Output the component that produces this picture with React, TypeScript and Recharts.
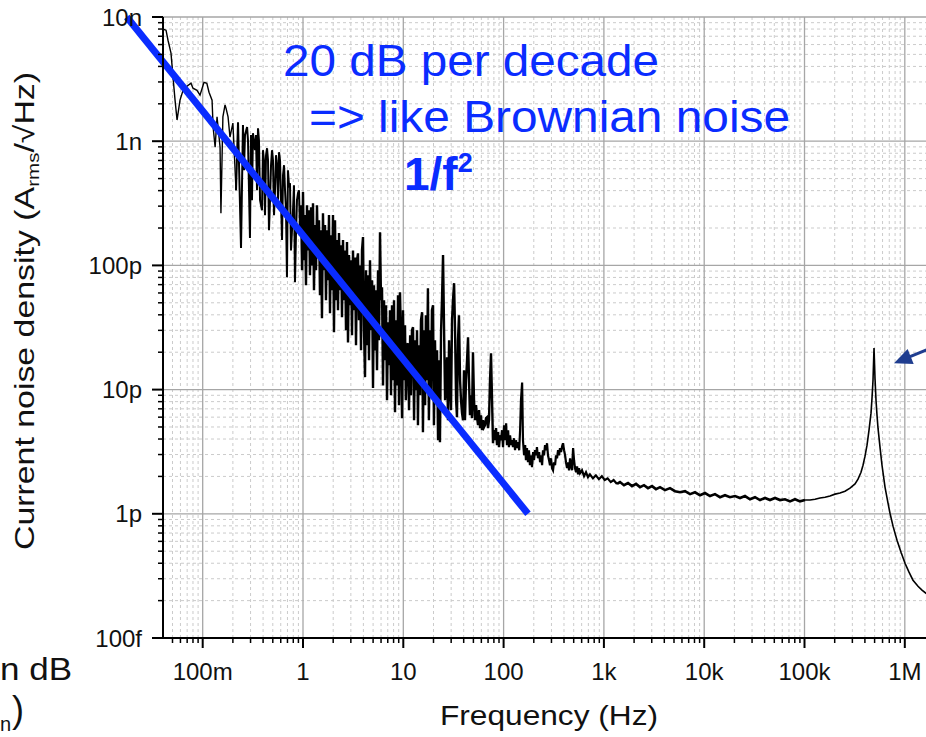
import React from 'react';
import { LineChart, Line, XAxis, YAxis, CartesianGrid, ReferenceLine } from 'recharts';

// Spectrum: [frequency in Hz, current noise in pA/√Hz]
const lowFreqRolloff: [number, number][] = [
  [0.0402, 7970], [0.0431, 7830], [0.0451, 6500], [0.0483, 5110], [0.0506, 3280], [0.053, 2140],
  [0.0555, 1480], [0.0594, 2140], [0.0637, 2570], [0.0697, 2770], [0.0764, 2930], [0.08, 2670],
  [0.0877, 2570], [0.094, 2350], [0.103, 2980], [0.11, 2930], [0.1156, 2480], [0.124, 2140],
  [0.127, 1300], [0.133, 895], [0.139, 1570], [0.149, 895], [0.152, 263], [0.159, 1570],
  [0.167, 1960], [0.171, 1840], [0.179, 1570], [0.187, 1080], [0.2, 1400],
];

const earlyFlicker: [number, number][] = [
  [0.215, 403], [0.225, 1420], [0.241, 138], [0.252, 1350], [0.258, 584], [0.264, 1120], [0.277, 1300],
  [0.283, 1010], [0.296, 166], [0.303, 1120], [0.31, 335], [0.317, 1160], [0.332, 846],
  [0.34, 1120], [0.348, 403], [0.356, 1270], [0.364, 1010], [0.373, 335], [0.39, 278],
  [0.399, 846], [0.408, 703], [0.418, 254], [0.428, 771], [0.438, 878], [0.448, 703],
  [0.458, 192], [0.469, 335], [0.48, 641], [0.491, 846], [0.502, 703], [0.514, 254],
  [0.526, 403], [0.538, 771], [0.551, 641], [0.564, 335], [0.577, 815], [0.59, 703],
  [0.604, 335], [0.618, 160], [0.632, 532], [0.647, 641], [0.662, 403], [0.677, 278],
  [0.692, 80.3], [0.708, 584], [0.725, 442], [0.742, 459], [0.759, 132], [0.777, 192],
  [0.795, 278], [0.813, 442], [0.832, 73.2], [0.851, 175], [0.871, 335], [0.891, 381],
  [0.912, 403], [0.933, 192],
];

const flickerRegion: [number, number][] = [
  [0.957, 305], [0.979, 91.5], [1.0, 389], [1.023, 110], [1.047, 254], [1.071, 69.3], [1.096, 305],
  [1.122, 132], [1.148, 278], [1.174, 83.4], [1.202, 294], [1.229, 100], [1.258, 317], [1.287, 63.1],
  [1.317, 211], [1.348, 91.5], [1.379, 305], [1.411, 114], [1.444, 231], [1.477, 57.5], [1.511, 192],
  [1.546, 37.6], [1.582, 263], [1.619, 91.5], [1.657, 211], [1.695, 52.5], [1.735, 192], [1.775, 76],
  [1.816, 254], [1.859, 41.2], [1.902, 175], [1.946, 63.1], [1.991, 254], [2.037, 29], [2.085, 231],
  [2.133, 52.5], [2.183, 160], [2.233, 43.6], [2.285, 182], [2.338, 63.1], [2.393, 145], [2.448, 38.3],
  [2.505, 160], [2.563, 52.5], [2.623, 132], [2.684, 30.1], [2.746, 154], [2.81, 24], [2.875, 121],
  [2.942, 47.8], [3.01, 110], [3.08, 27.4], [3.152, 132], [3.225, 43.6], [3.3, 116], [3.377, 22.8],
  [3.455, 110], [3.535, 125], [3.617, 36.2], [3.701, 100], [3.787, 20.7], [3.875, 132], [3.965, 169],
  [4.058, 30.1], [4.152, 12.6], [4.248, 91.5], [4.347, 22.8], [4.448, 83.4], [4.551, 17.2], [4.657, 110],
  [4.765, 30.1], [4.876, 76], [4.989, 10.3], [5.105, 69.3], [5.223, 20.7], [5.345, 63.1], [5.469, 14.3],
  [5.596, 91.5], [5.726, 25], [5.859, 185], [5.995, 52.5], [6.134, 66.7], [6.277, 10.8], [6.422, 52.5],
  [6.572, 17.2], [6.724, 47.8], [6.88, 8.22], [7.04, 34.9], [7.204, 15.7], [7.371, 43.6], [7.542, 9.01],
  [7.717, 47.8], [7.896, 11.9], [8.08, 52.5], [8.267, 6.58], [8.459, 36.2], [8.656, 10.8], [8.857, 57.5],
  [9.062, 7.49], [9.273, 60.8],
  [9.48, 25], [9.71, 5.89], [9.93, 43.6], [10.16, 11.9], [10.4, 33], [10.6, 8.22], [10.9, 22.8],
  [11.1, 23.6], [11.4, 6.83], [11.7, 27.4], [11.9, 9.01], [12.2, 30.1], [12.5, 31.8], [12.8, 5.67],
  [13.1, 25], [13.4, 9.89], [13.7, 30.1], [14.0, 5.17], [14.3, 22.8], [14.7, 9.01], [15.0, 36.2],
  [15.4, 42], [15.7, 4.54], [16.1, 30.1], [16.5, 7.49], [16.8, 39.7], [17.2, 11.9], [17.6, 65.5],
  [18.0, 5.67], [18.5, 30.1], [18.9, 9.01], [19.3, 43.6], [19.8, 47.8], [20.2, 5.17], [20.7, 25],
  [21.2, 8.22], [21.7, 20.7], [22.2, 3.91], [22.7, 17.2], [23.2, 3.77], [23.8, 30.1], [24.3, 52.5],
  [24.9, 121], [25.5, 30.1], [26.1, 8.22], [26.7, 11.9], [27.3, 18.2], [27.9, 5.67], [28.6, 25],
  [29.2, 11.9], [29.9, 6.83], [30.6, 36.2], [31.3, 52.5], [32.1, 71.9], [32.8, 30.1], [33.6, 8.22],
  [34.3, 5.99], [35.1, 25], [35.9, 39.7], [36.8, 11.9], [37.6, 8.22], [38.5, 6.46], [39.4, 5.67],
  [40.3, 14.3], [41.2, 5.67], [42.2, 11.9], [43.2, 17.2], [44.2, 26.4], [45.2, 11.9], [46.2, 6.22],
  [47.3, 9.01], [48.4, 5.89], [49.5, 20], [50.7, 8.22], [51.9, 5.67], [53.1, 7.49], [54.3, 5.99],
  [55.6, 5.17], [56.9, 6.83], [58.2, 4.89], [59.5, 6.22], [60.9, 4.71], [62.3, 5.67], [63.8, 4.98],
  [65.3, 5.17], [66.8, 5.89], [68.3, 5.99], [69.9, 4.89], [71.5, 5.67], [73.2, 11.9], [74.9, 19.6],
  [76.7, 8.22], [78.4, 3.7], [80.3, 4.71], [82.1, 3.91], [84.0, 4.89], [86.0, 3.57], [88.0, 4.54],
  [90.0, 3.44], [92.1, 4.29],
];

const shoulderRegion: [number, number][] = [
  [94.2, 3.91], [96.4, 4.71], [98.6, 3.44], [101, 5.17], [103, 3.91], [106, 5.36], [108, 3.57],
  [111, 4.71], [113, 3.44], [116, 4.29], [119, 3.57], [121, 3.91], [124, 3.44], [127, 4.06],
  [130, 3.25], [133, 3.91], [136, 3.38], [139, 3.77], [143, 3.25], [146, 4.71], [149, 8.22],
  [153, 11.4], [156, 3.91], [160, 2.96], [164, 3.57], [167, 2.7], [171, 3.38], [175, 2.6],
  [179, 3.25], [183, 2.46], [188, 2.96], [192, 2.37], [197, 3.14], [201, 2.7], [206, 3.25],
  [211, 2.96], [215, 3.44], [220, 2.8], [226, 3.14], [231, 2.6], [236, 2.96], [242, 2.46],
  [247, 3.25], [253, 2.96], [259, 3.57], [265, 3.25], [271, 3.7], [277, 2.96], [284, 2.7],
  [290, 2.46], [297, 2.8], [304, 2.33], [311, 2.24], [318, 2.6], [326, 2.46], [333, 2.96],
  [341, 2.8], [349, 3.25], [357, 2.96], [365, 3.38], [374, 3.14], [383, 3.5], [391, 3.7],
  [401, 3.25], [410, 2.96], [419, 2.6], [429, 2.33], [439, 2.6], [449, 2.24], [460, 2.8],
  [470, 2.41], [481, 2.24], [493, 3.38], [504, 2.7], [515, 2.33], [528, 2.16], [540, 2.41],
  [552, 2.08], [565, 2.33], [578, 2.12], [605, 2.24], [634, 2.01], [663, 2.16], [694, 1.97],
  [726, 2.08], [778, 1.93], [832, 2.04], [891, 1.9], [954, 2.01], [1020, 1.87], [1090, 1.93],
  [1170, 1.8], [1250, 1.87],
];

const whiteFloor: [number, number][] = [
  [1351, 1.74], [1447, 1.8], [1586, 1.7], [1739, 1.77], [1906, 1.67], [2090, 1.74], [2291, 1.64],
  [2511, 1.7], [2753, 1.61], [3018, 1.67], [3307, 1.58], [3625, 1.64], [4067, 1.55], [4560, 1.61],
  [5116, 1.52], [5738, 1.49], [6437, 1.52], [7219, 1.44], [8097, 1.49], [9081, 1.41], [10190, 1.47],
  [11430, 1.39], [12810, 1.44], [14370, 1.36], [16120, 1.41], [18080, 1.36], [20280, 1.39],
  [22750, 1.34], [25510, 1.39], [28620, 1.31], [32100, 1.36], [36010, 1.29], [40390, 1.34],
  [45290, 1.29], [50810, 1.34], [56980, 1.29], [63920, 1.31], [71690, 1.26], [80410, 1.31],
  [90190, 1.26], [101200, 1.29],
];

const resonance: [number, number][] = [
  [113400, 1.29], [127300, 1.31], [142700, 1.34], [160100, 1.36],
  [179600, 1.39], [201400, 1.44], [225900, 1.47], [253400, 1.52], [284200, 1.61], [318800, 1.74],
  [341600, 1.9], [365900, 2.16], [383100, 2.46], [401100, 2.91], [420000, 3.57], [439700, 4.71],
  [460300, 6.46], [471000, 8.53], [481900, 11.9], [493200, 21.6], [504600, 12.3], [516300, 8.22],
  [528300, 6.22], [540600, 4.89], [565800, 3.44], [592500, 2.46], [634800, 1.64], [680200, 1.22],
  [712000, 1.01], [762900, 0.795], [836200, 0.613], [916900, 0.49], [1005000, 0.4], [1101000, 0.339],
  [1207000, 0.292], [1354000, 0.261], [1484000, 0.243], [1627000, 0.229], [1783000, 0.217],
  [2000000, 0.205],
];

// axis ticks
const freqMajorTicks = [0.1, 1, 10, 100, 1e3, 1e4, 1e5, 1e6];
const freqTickLabels = ['100m', '1', '10', '100', '1k', '10k', '100k', '1M'];
const noiseMajorTicks = [0.1, 1, 10, 100, 1000, 10000];
const noiseTickLabels = ['100f', '1p', '10p', '100p', '1n', '10n'];
const minorSteps = [2, 3, 4, 5, 6, 7, 8, 9];

// 1/f guide line and the arrow pointing at the resonance
const guideFreq = [0.0175, 175];
const guideNoise = [10000, 1];
const arrowFreq = [2e6, 7.8e5];
const arrowNoise = [22.2, 16.3];

const FREQ_DOMAIN: [number, number] = [0.0402, 2e6];
const NOISE_DOMAIN: [number, number] = [0.1, 10000];

const FONT = '"Liberation Sans", Arial, Helvetica, sans-serif';
const BLUE = '#0a2cff';
const NAVY = '#1f3d8f';

const minorTicks = (decades: number[], [lo, hi]: [number, number]) =>
  decades
    .flatMap((d) => minorSteps.map((s) => d * s))
    .filter((v) => v > lo && v < hi);

const freqMinor = minorTicks([0.01, ...freqMajorTicks], FREQ_DOMAIN);
const noiseMinor = minorTicks(noiseMajorTicks, NOISE_DOMAIN);

const toPoints = (rows: [number, number][]) => rows.map(([f, a]) => ({ f, a }));
const last = (rows: [number, number][]) => rows[rows.length - 1];

// split into pieces so the dense stretch can be drawn heavier, like the scope trace
const traces = [
  { points: toPoints([...lowFreqRolloff, earlyFlicker[0]]), width: 1.4 },
  { points: toPoints(earlyFlicker), width: 2 },
  { points: toPoints([last(earlyFlicker), ...flickerRegion]), width: 2.4 },
  { points: toPoints([last(flickerRegion), ...shoulderRegion, whiteFloor[0]]), width: 2.2 },
  { points: toPoints(whiteFloor), width: 2.6 },
  { points: toPoints([last(whiteFloor), ...resonance]), width: 1.6 },
];

const FreqTick = (props: any) => {
  const { x, y, payload } = props;
  const idx = freqMajorTicks.indexOf(payload.value);
  const major = idx >= 0;
  return (
    <g>
      <line x1={x} y1={y} x2={x} y2={y + (major ? 10 : 5)} stroke="#000" strokeWidth={major ? 2 : 1.5} />
      {major && (
        <text x={x} y={y + 42} textAnchor="middle" fontSize={24} fontFamily={FONT} fill="#111">
          {freqTickLabels[idx]}
        </text>
      )}
    </g>
  );
};

const NoiseTick = (props: any) => {
  const { x, y, payload } = props;
  const idx = noiseMajorTicks.indexOf(payload.value);
  const major = idx >= 0;
  return (
    <g>
      <line x1={x - (major ? 11 : 5)} y1={y} x2={x} y2={y} stroke="#000" strokeWidth={major ? 2 : 1.5} />
      {major && (
        <text x={x - 21} y={y + 8.5} textAnchor="end" fontSize={24} fontFamily={FONT} fill="#111">
          {noiseTickLabels[idx]}
        </text>
      )}
    </g>
  );
};

const ArrowShape = (props: any) => {
  const { x1, y1, x2, y2 } = props;
  const ang = Math.atan2(y2 - y1, x2 - x1);
  const len = 18;
  const half = 8;
  const bx = x2 - len * Math.cos(ang);
  const by = y2 - len * Math.sin(ang);
  const px = -Math.sin(ang) * half;
  const py = Math.cos(ang) * half;
  return (
    <g>
      <line x1={x1} y1={y1} x2={bx + 2 * Math.cos(ang)} y2={by + 2 * Math.sin(ang)} stroke={NAVY} strokeWidth={3} />
      <polygon points={`${x2},${y2} ${bx + px},${by + py} ${bx - px},${by - py}`} fill={NAVY} />
    </g>
  );
};

export default function App() {
  return (
    <div style={{ position: 'fixed', left: 0, top: 0, width: 926, height: 737, overflow: 'hidden', background: '#fff' }}>
      <LineChart width={1000} height={737} margin={{ top: 17, right: 65, bottom: 39, left: 0 }}>
        <CartesianGrid
          stroke="#cbcbcb"
          strokeDasharray="3 3"
          verticalValues={freqMinor}
          horizontalValues={noiseMinor}
        />
        <CartesianGrid
          stroke="#a6a6a6"
          strokeWidth={1.3}
          verticalValues={freqMajorTicks}
          horizontalValues={noiseMajorTicks}
        />
        <XAxis
          dataKey="f"
          type="number"
          scale="log"
          domain={FREQ_DOMAIN}
          allowDataOverflow
          ticks={[...freqMinor, ...freqMajorTicks].sort((a, b) => a - b)}
          interval={0}
          tick={(p: any) => <FreqTick {...p} />}
          tickLine={false}
          tickSize={0}
          tickMargin={0}
          height={60}
          axisLine={{ stroke: '#000', strokeWidth: 2 }}
        />
        <YAxis
          dataKey="a"
          type="number"
          scale="log"
          domain={NOISE_DOMAIN}
          allowDataOverflow
          ticks={[...noiseMinor, ...noiseMajorTicks].sort((a, b) => a - b)}
          interval={0}
          tick={(p: any) => <NoiseTick {...p} />}
          tickLine={false}
          tickSize={0}
          tickMargin={0}
          width={163}
          axisLine={{ stroke: '#000', strokeWidth: 2 }}
        />
        {traces.map((t, i) => (
          <Line
            key={i}
            data={t.points}
            dataKey="a"
            type="linear"
            stroke="#000"
            strokeWidth={t.width}
            strokeLinejoin="miter"
            dot={false}
            activeDot={false}
            isAnimationActive={false}
          />
        ))}
        <ReferenceLine
          segment={[
            { x: guideFreq[0], y: guideNoise[0] },
            { x: guideFreq[1], y: guideNoise[1] },
          ]}
          stroke={BLUE}
          strokeWidth={7}
          ifOverflow="visible"
        />
        <ReferenceLine
          segment={[
            { x: arrowFreq[0], y: arrowNoise[0] },
            { x: arrowFreq[1], y: arrowNoise[1] },
          ]}
          shape={ArrowShape}
          ifOverflow="visible"
        />
      </LineChart>

      <svg
        width={926}
        height={737}
        style={{ position: 'absolute', left: 0, top: 0, pointerEvents: 'none' }}
        fontFamily={FONT}
      >
        <text x={283} y={76} fontSize={45} fill={BLUE} textLength={376} lengthAdjust="spacingAndGlyphs">
          20 dB per decade
        </text>
        <text x={309} y={132} fontSize={45} fill={BLUE} textLength={481} lengthAdjust="spacingAndGlyphs">
          =&gt; like Brownian noise
        </text>
        <text x={404} y={190} fontSize={46} fontWeight="bold" fill={BLUE}>
          1/f<tspan fontSize={27} dy={-18}>2</tspan>
        </text>

        <text x={440} y={725} fontSize={28} fill="#111" textLength={218} lengthAdjust="spacingAndGlyphs">
          Frequency (Hz)
        </text>
        <text
          transform="translate(34,311) rotate(-90) scale(1.21,1)"
          textAnchor="middle"
          fontSize={28}
          fill="#111"
        >
          Current noise density (A<tspan fontSize={17} dy={5}>rms</tspan>
          <tspan dy={-5}>/√Hz)</tspan>
        </text>

        <text x={0} y={680} fontSize={32} fill="#111" textLength={72} lengthAdjust="spacingAndGlyphs">
          n dB
        </text>
        <text x={0} y={731} fontSize={20} fill="#111">
          n
        </text>
        <text x={12} y={722} fontSize={36} fill="#111">
          )
        </text>
      </svg>
    </div>
  );
}
